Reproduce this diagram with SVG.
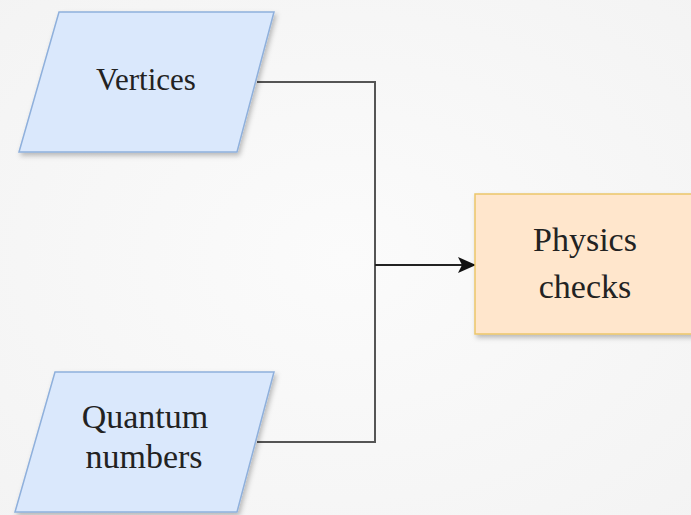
<svg xmlns="http://www.w3.org/2000/svg" width="691" height="515" viewBox="0 0 691 515">
<defs>
<radialGradient id="bg" cx="0.5" cy="0.5" r="0.75">
<stop offset="0" stop-color="#fbfbfb"/>
<stop offset="1" stop-color="#f3f3f3"/>
</radialGradient>
<filter id="sh" x="-20%" y="-20%" width="140%" height="150%">
<feDropShadow dx="2" dy="3" stdDeviation="2.5" flood-color="#000" flood-opacity="0.25"/>
</filter>
<marker id="arr" markerWidth="18" markerHeight="16" refX="17" refY="8" orient="auto" markerUnits="userSpaceOnUse">
<path d="M0,0 L18,8 L0,16 L4,8 Z" fill="#111"/>
</marker>
</defs>
<style>
.io{fill:#dae8fc;stroke:#8fb0dc;stroke-width:1.5;filter:url(#sh)}
.proc{fill:#ffe6cc;stroke:#ecc66a;stroke-width:1.5;filter:url(#sh)}
.edge{fill:none;stroke:#555;stroke-width:2}
.lbl{font-family:'Liberation Serif',serif;fill:#222;text-anchor:middle}
</style>
<rect width="691" height="515" fill="url(#bg)"/>
<g id="connectors">
<path class="edge" d="M257,82 H375 V442 H257"/>
<path class="edge" d="M375,265 H475" style="stroke:#222" marker-end="url(#arr)"/>
</g>
<g id="vertices">
<polygon class="io" points="59,12 274,12 237,152 19,152"/>
<text class="lbl" x="146" y="90" font-size="31">Vertices</text>
</g>
<g id="quantum">
<polygon class="io" points="55,372 274,372 237,512 15,512"/>
<text class="lbl" x="145" y="428" font-size="34">Quantum</text>
<text class="lbl" x="144" y="468" font-size="34">numbers</text>
</g>
<g id="physics">
<rect class="proc" x="475" y="194" width="222" height="140"/>
<text class="lbl" x="585" y="251" font-size="34">Physics</text>
<text class="lbl" x="585" y="298" font-size="34">checks</text>
</g>
</svg>
